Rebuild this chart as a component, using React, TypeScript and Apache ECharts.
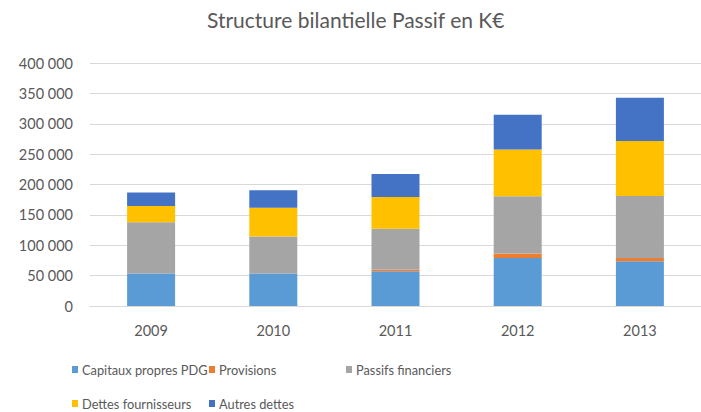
import React, { useEffect, useRef } from "react";
import * as echarts from "echarts";

const categories = ["2009", "2010", "2011", "2012", "2013"];
const capitauxPropres = [53400, 53400, 57200, 78900, 73500];
const provisions = [0, 0, 2800, 7700, 5400];
const passifsFinanciers = [84300, 61000, 67000, 94200, 102000];
const dettesFournisseurs = [26800, 47400, 52300, 76800, 90800];
const autresDettes = [22200, 28900, 38100, 57200, 70900];

const seriesNames = ["Capitaux propres PDG", "Provisions", "Passifs financiers", "Dettes fournisseurs", "Autres dettes"];
const seriesColors = ["#5b9bd5", "#ed7d31", "#a5a5a5", "#ffc000", "#4472c4"];
const seriesData = [capitauxPropres, provisions, passifsFinanciers, dettesFournisseurs, autresDettes];

const FONT = "Lato";

export default function App() {
  const ref = useRef<HTMLDivElement>(null);
  useEffect(() => {
    if (!ref.current) return;
    const chart = echarts.init(ref.current, undefined, { renderer: "svg" });
    const legendPos = [
      { left: 72, top: 363 },
      { left: 209, top: 363 },
      { left: 346, top: 363 },
      { left: 72, top: 397 },
      { left: 209, top: 397 },
    ];
    chart.setOption({
      animation: false,
      title: {
        text: "Structure bilantielle Passif en K€",
        left: 207,
        top: 9,
        padding: 0,
        textStyle: { fontFamily: FONT, fontSize: 21, fontWeight: "normal", color: "#595959" },
      },
      legend: seriesNames.map((n, i) => ({
        data: [n],
        left: legendPos[i].left,
        top: legendPos[i].top,
        padding: 0,
        itemWidth: 6,
        itemHeight: 7,
        itemGap: 4,
        icon: "rect",
        textStyle: { fontFamily: FONT, fontSize: 12.8, color: "#595959", padding: [0, 0, 0, -1] },
      })),
      grid: { left: 90, top: 63, width: 619, height: 243, containLabel: false },
      xAxis: {
        type: "category",
        data: categories,
        axisLine: { lineStyle: { color: "#d9d9d9" } },
        axisTick: { show: false },
        axisLabel: { fontFamily: FONT, fontSize: 14.5, color: "#595959", margin: 17 },
      },
      yAxis: {
        type: "value",
        min: 0,
        max: 400000,
        interval: 50000,
        axisLine: { show: false },
        axisTick: { show: false },
        splitLine: { lineStyle: { color: "#d9d9d9" } },
        axisLabel: {
          fontFamily: FONT,
          fontSize: 14.5,
          color: "#595959",
          margin: 17,
          formatter: (v: number) => (v === 0 ? "0" : v.toLocaleString("fr-FR").replace(/\s|\u202f|\u00a0/g, " ")),
        },
      },
      series: seriesNames.map((n, i) => ({
        name: n,
        type: "bar",
        stack: "total",
        barWidth: 48,
        data: seriesData[i],
        itemStyle: { color: seriesColors[i] },
      })),
    });
    return () => chart.dispose();
  }, []);
  return (
    <div
      ref={ref}
      style={{ position: "absolute", left: 0, top: 0, width: 701, height: 412 }}
    />
  );
}
